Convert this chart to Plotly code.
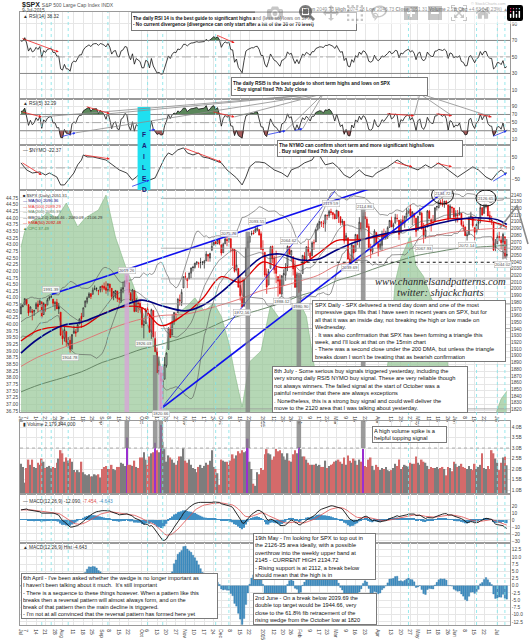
import numpy as np
import pandas as pd
import plotly.graph_objects as go
from plotly.subplots import make_subplots

W, H = 529, 640
FONT = "Liberation Sans, Arial, sans-serif"

holidays = ["2014-07-04", "2014-09-01", "2014-11-27", "2014-12-25", "2015-01-01",
            "2015-01-19", "2015-02-16", "2015-04-03", "2015-05-25", "2015-07-03"]

# closes before the visible window, only used to warm up the indicators
warm_close = [1883.7, 1881.1, 1884.7, 1867.7, 1878.2, 1875.6, 1878.5, 1896.7, 1897.5, 1888.5,
              1870.9, 1877.9, 1885.1, 1872.8, 1888.0, 1892.5, 1900.5, 1911.9, 1909.8, 1920.0,
              1923.6, 1925.0, 1924.2, 1927.9, 1940.5, 1949.4, 1951.3, 1950.8, 1943.9, 1930.1,
              1936.2, 1937.8, 1942.0, 1957.0, 1959.5, 1962.9, 1962.6, 1950.0, 1959.5, 1957.2,
              1961.0, 1960.2]

spx_open = [
    1962.3, 1973.1, 1975.9, 1984.2, 1976.4, 1965.1, 1966.7, 1965.8, 1969.9, 1977.4, 1976.4, 1979.8, 1961.5, 1976.9, 1975.7, 1985.3, 1988.1, 1984.6, 1978.3, 1980.0, 1973.2, 1965.1,
    1929.8, 1926.6, 1936.3, 1917.3, 1923.0, 1910.4, 1933.4, 1935.7, 1935.6, 1947.4, 1958.9, 1958.4, 1972.7, 1980.5, 1986.8, 1992.6, 1991.7, 1998.6, 2000.5, 1997.4, 1998.5,
    2004.1, 2003.6, 2001.7, 1998.0, 2007.2, 2000.7, 1988.4, 1992.9, 1996.7, 1986.0, 1981.9, 1999.3, 2003.1, 2012.7, 2009.1, 1992.8, 1983.3, 1997.3, 1966.2, 1978.9, 1978.2,
    1971.4, 1945.8, 1948.1, 1970.0, 1961.4, 1935.6, 1967.7, 1925.6, 1905.7, 1877.1, 1874.2, 1855.9, 1864.9, 1885.6, 1909.4, 1941.3, 1931.0, 1951.6, 1962.0, 1964.1, 1983.3, 1979.5, 2001.2,
    2018.2, 2015.8, 2015.3, 2023.3, 2032.4, 2032.0, 2038.2, 2037.8, 2039.2, 2039.7, 2038.3, 2041.5, 2051.2, 2045.9, 2057.5, 2065.1, 2070.2, 2067.4, 2074.8,
    2065.8, 2053.8, 2067.5, 2073.6, 2072.8, 2074.8, 2056.6, 2058.9, 2027.9, 2030.4, 2005.0, 1986.7, 1973.8, 2018.9, 2061.0, 2069.3, 2081.5, 2083.3, 2084.3, 2087.6, 2088.5, 2082.1,
    2058.9, 2054.4, 2022.2, 2005.6, 2030.6, 2063.5, 2046.1, 2031.6, 2018.4, 2013.8, 1992.3, 2020.8, 2020.2, 2034.3, 2062.9, 2050.4, 2047.9, 2032.3, 2002.5, 2019.4,
    1996.7, 2022.7, 2048.9, 2043.5, 2062.3, 2053.5, 2049.4, 2068.6, 2069.9, 2088.8, 2096.5, 2099.2, 2097.7, 2097.7, 2109.8, 2109.1, 2115.3, 2113.9, 2110.9,
    2105.2, 2115.8, 2107.7, 2098.5, 2100.9, 2072.3, 2076.1, 2044.7, 2041.1, 2064.6, 2055.4, 2080.6, 2072.8, 2098.7, 2090.3, 2107.9, 2103.9, 2093.1, 2059.9, 2055.8, 2064.1, 2084.1,
    2067.6, 2060.0, 2064.9, 2080.8, 2076.9, 2081.3, 2091.5, 2102.0, 2092.3, 2097.8, 2105.0, 2102.6, 2084.1, 2102.8, 2098.3, 2107.2, 2112.8, 2119.3, 2108.4, 2112.5, 2105.5,
    2087.4, 2110.2, 2112.6, 2091.3, 2079.0, 2092.1, 2115.6, 2102.9, 2099.6, 2100.4, 2122.1, 2121.3, 2129.5, 2127.8, 2125.6, 2130.4, 2125.3, 2105.1, 2122.3, 2120.7,
    2108.6, 2110.4, 2110.6, 2112.4, 2095.1, 2092.3, 2079.1, 2081.1, 2106.2, 2107.4, 2091.3, 2084.3, 2097.4, 2101.6, 2121.1, 2112.5, 2123.2, 2123.7, 2109.8, 2102.6, 2098.6, 2061.2,
    2067.0, 2078.0, 2073.0, 2069.5, 2077.7, 2049.7]
spx_high = [
    1978.6, 1976.7, 1985.6, 1984.2, 1976.4, 1973.8, 1969.8, 1968.7, 1979.8, 1982.5, 1983.9, 1981.8, 1979.9, 1976.9, 1986.2, 1989.2, 1991.4, 1984.6, 1981.5, 1984.9, 1978.9, 1965.1,
    1937.4, 1942.9, 1936.3, 1927.9, 1928.9, 1932.4, 1944.9, 1939.7, 1948.4, 1955.2, 1964.0, 1971.9, 1982.6, 1988.6, 1994.8, 1993.5, 2001.9, 2005.0, 2002.1, 1998.6, 2003.4,
    2006.1, 2009.3, 2011.2, 2007.7, 2007.2, 2001.0, 1996.7, 1997.7, 1996.7, 1987.2, 2002.3, 2010.7, 2012.3, 2019.3, 2009.1, 1995.4, 1999.8, 1997.3, 1986.4, 1981.3, 1985.2,
    1971.4, 1952.3, 1971.2, 1977.8, 1962.4, 1970.4, 1967.7, 1936.0, 1912.1, 1898.7, 1874.2, 1876.0, 1898.2, 1905.0, 1942.5, 1949.3, 1961.9, 1965.3, 1964.6, 1985.1, 1991.4, 1999.4, 2018.2,
    2024.5, 2015.9, 2023.8, 2031.6, 2034.3, 2038.7, 2041.3, 2040.3, 2046.2, 2041.1, 2043.1, 2056.1, 2052.1, 2053.8, 2071.5, 2070.2, 2074.2, 2073.3, 2075.8,
    2065.8, 2068.8, 2076.3, 2077.3, 2075.8, 2075.0, 2060.6, 2058.9, 2055.5, 2030.4, 2018.7, 2016.9, 2016.8, 2061.2, 2077.9, 2078.8, 2086.7, 2087.6, 2092.7, 2093.6, 2088.5, 2085.6,
    2072.4, 2054.4, 2030.3, 2029.6, 2064.1, 2064.4, 2049.3, 2056.9, 2018.4, 2021.4, 2020.5, 2028.9, 2038.3, 2064.6, 2062.9, 2057.6, 2047.9, 2042.5, 2024.6, 2023.3,
    2021.7, 2050.3, 2054.7, 2063.6, 2072.4, 2056.2, 2070.9, 2073.5, 2088.5, 2097.0, 2101.3, 2100.2, 2102.1, 2110.6, 2110.1, 2117.9, 2119.6, 2113.9, 2112.7,
    2117.5, 2115.8, 2107.7, 2104.3, 2100.9, 2083.5, 2076.1, 2050.1, 2066.4, 2064.6, 2081.4, 2080.6, 2106.9, 2098.7, 2113.9, 2114.9, 2107.6, 2097.4, 2067.2, 2062.8, 2088.9, 2084.1,
    2067.6, 2072.2, 2086.9, 2089.8, 2086.7, 2093.3, 2102.6, 2107.7, 2098.6, 2111.9, 2111.3, 2102.6, 2103.9, 2109.6, 2109.0, 2120.5, 2120.9, 2125.9, 2116.0, 2113.7, 2105.5,
    2108.4, 2120.9, 2115.2, 2098.4, 2092.9, 2117.7, 2117.7, 2105.1, 2110.2, 2121.5, 2123.9, 2131.8, 2133.0, 2134.7, 2131.3, 2132.2, 2125.3, 2126.2, 2122.3, 2120.7,
    2117.2, 2117.6, 2121.9, 2112.9, 2100.9, 2093.0, 2085.7, 2108.5, 2115.0, 2107.4, 2091.3, 2097.4, 2106.8, 2126.7, 2121.6, 2126.6, 2126.7, 2125.1, 2116.0, 2108.9, 2098.6, 2074.3,
    2082.8, 2085.1, 2078.6, 2083.7, 2077.7, 2074.3]
spx_low = [
    1962.3, 1972.6, 1975.9, 1974.9, 1959.5, 1965.1, 1952.9, 1959.6, 1969.9, 1965.3, 1975.7, 1955.6, 1960.8, 1965.8, 1975.7, 1982.4, 1985.8, 1974.4, 1967.3, 1969.9, 1962.4, 1930.0,
    1916.4, 1921.2, 1913.8, 1911.5, 1904.8, 1909.0, 1933.4, 1928.3, 1935.6, 1947.4, 1941.5, 1958.4, 1972.7, 1977.7, 1986.8, 1984.8, 1991.7, 1998.6, 1996.2, 1990.5, 1994.6,
    1994.9, 1998.1, 1992.6, 1990.1, 1995.6, 1984.6, 1982.9, 1985.9, 1980.3, 1978.5, 1979.1, 1993.3, 2003.1, 2006.6, 1991.0, 1982.8, 1978.6, 1965.0, 1966.2, 1964.0, 1968.0,
    1941.7, 1926.0, 1948.1, 1958.4, 1935.1, 1925.3, 1927.6, 1906.0, 1874.1, 1871.8, 1820.7, 1835.0, 1864.9, 1882.3, 1909.4, 1927.1, 1931.0, 1946.3, 1951.4, 1964.1, 1974.8, 1974.2, 2001.2,
    2013.7, 2001.0, 2014.0, 2015.9, 2025.9, 2030.2, 2035.3, 2031.3, 2030.4, 2035.4, 2030.2, 2041.5, 2040.4, 2040.5, 2056.8, 2065.1, 2064.8, 2066.6, 2065.1,
    2049.6, 2053.8, 2066.7, 2063.4, 2068.8, 2054.3, 2034.2, 2024.3, 2027.9, 2002.3, 1982.3, 1972.6, 1973.8, 2018.9, 2061.0, 2069.3, 2079.5, 2081.9, 2084.3, 2085.8, 2079.5, 2057.9,
    2046.0, 2017.3, 1992.4, 2005.6, 2030.6, 2038.3, 2022.6, 2008.3, 1988.4, 1991.5, 1988.1, 2004.5, 2012.0, 2026.4, 2050.5, 2040.9, 2019.9, 2001.5, 1989.2, 1993.4,
    1980.9, 2022.7, 2036.7, 2043.5, 2049.0, 2041.9, 2048.6, 2057.9, 2069.9, 2086.7, 2089.8, 2092.2, 2090.8, 2085.4, 2103.0, 2105.9, 2109.9, 2103.8, 2103.8,
    2104.5, 2098.3, 2094.5, 2095.2, 2067.3, 2072.2, 2044.2, 2039.7, 2041.1, 2041.2, 2055.4, 2065.1, 2061.2, 2085.6, 2090.3, 2104.4, 2091.5, 2061.1, 2045.5, 2052.0, 2064.1, 2067.0,
    2048.4, 2057.3, 2056.5, 2076.1, 2073.3, 2074.3, 2091.5, 2092.3, 2083.2, 2097.8, 2100.0, 2073.0, 2084.1, 2094.4, 2091.1, 2103.2, 2112.8, 2107.0, 2094.9, 2097.4, 2077.6,
    2087.4, 2110.2, 2088.5, 2067.9, 2074.9, 2092.1, 2104.6, 2085.6, 2096.0, 2100.4, 2116.8, 2120.0, 2124.5, 2122.6, 2120.9, 2126.1, 2099.2, 2105.1, 2112.8, 2104.9,
    2098.9, 2099.1, 2109.6, 2093.2, 2085.7, 2079.1, 2072.1, 2081.1, 2106.2, 2091.3, 2072.5, 2082.1, 2088.9, 2097.9, 2109.5, 2112.5, 2120.1, 2108.6, 2102.1, 2095.4, 2056.6, 2056.3,
    2067.0, 2071.0, 2058.4, 2044.0, 2044.7, 2046.7]
spx_close = [
    1973.3, 1974.6, 1985.4, 1977.6, 1963.7, 1972.8, 1964.7, 1967.6, 1977.1, 1973.3, 1981.6, 1958.1, 1978.2, 1973.6, 1983.5, 1987.0, 1988.0, 1978.3, 1978.9, 1969.9, 1970.1, 1930.7,
    1925.2, 1939.0, 1920.2, 1920.2, 1909.6, 1931.6, 1936.9, 1933.8, 1946.7, 1955.2, 1955.1, 1971.7, 1981.6, 1986.5, 1992.4, 1988.4, 1997.9, 2000.0, 2000.1, 1996.7, 2003.4,
    2002.3, 2000.7, 1997.7, 2007.7, 2001.5, 1988.4, 1995.7, 1997.5, 1985.5, 1984.1, 1999.0, 2001.6, 2011.4, 2010.4, 1994.3, 1982.8, 1998.3, 1966.0, 1982.9, 1977.8, 1972.3,
    1946.2, 1946.2, 1967.9, 1964.8, 1935.1, 1968.9, 1928.2, 1906.1, 1874.7, 1877.7, 1862.5, 1862.8, 1886.8, 1904.0, 1941.3, 1927.1, 1950.8, 1964.6, 1961.6, 1985.1, 1982.3, 1994.7, 2018.1,
    2017.8, 2012.1, 2023.6, 2031.2, 2031.9, 2038.3, 2039.7, 2038.3, 2039.3, 2039.8, 2041.3, 2051.8, 2048.7, 2052.8, 2063.5, 2069.4, 2067.0, 2072.8, 2067.6,
    2053.4, 2066.6, 2074.3, 2071.9, 2075.4, 2060.3, 2059.8, 2026.1, 2035.3, 2002.3, 1989.6, 1972.7, 2012.9, 2061.2, 2070.7, 2078.5, 2082.2, 2081.9, 2088.8, 2090.6, 2080.4, 2058.9,
    2058.2, 2020.6, 2002.6, 2025.9, 2062.1, 2044.8, 2028.3, 2023.0, 2011.3, 1992.7, 2019.4, 2022.6, 2032.1, 2063.2, 2051.8, 2057.1, 2029.6, 2002.2, 2021.3, 1995.0,
    2020.9, 2050.0, 2041.5, 2062.5, 2055.5, 2046.7, 2068.6, 2068.5, 2088.5, 2097.0, 2100.3, 2099.7, 2097.5, 2110.3, 2109.7, 2115.5, 2113.9, 2110.7, 2104.5,
    2117.4, 2107.8, 2098.5, 2101.0, 2071.3, 2079.4, 2044.2, 2040.2, 2065.9, 2053.4, 2081.2, 2074.3, 2099.5, 2089.3, 2108.1, 2104.4, 2091.5, 2061.1, 2056.2, 2061.0, 2086.2, 2067.9,
    2059.7, 2067.0, 2080.6, 2076.3, 2081.9, 2091.2, 2102.1, 2092.4, 2095.8, 2106.6, 2105.0, 2081.2, 2100.4, 2097.3, 2108.0, 2112.9, 2117.7, 2108.9, 2114.8, 2106.9, 2085.5,
    2108.3, 2114.5, 2089.5, 2080.2, 2088.0, 2116.1, 2105.3, 2099.9, 2098.5, 2121.1, 2122.7, 2129.2, 2127.8, 2125.9, 2130.8, 2126.1, 2104.2, 2123.5, 2120.8, 2107.4,
    2111.7, 2109.6, 2114.1, 2095.8, 2092.8, 2079.3, 2080.2, 2105.2, 2108.9, 2094.1, 2084.4, 2096.3, 2100.4, 2121.2, 2110.0, 2122.9, 2124.2, 2108.6, 2102.3, 2101.5, 2057.6, 2063.1,
    2077.4, 2076.8, 2068.8, 2081.3, 2046.7, 2051.3]
volume_b = [
    2.25, 2.10, 1.35, 2.05, 2.45, 2.20, 2.45, 2.10, 2.05, 2.30, 2.20, 2.50, 2.35, 2.05, 2.10, 2.15, 2.05, 2.10, 2.05, 2.30, 2.50, 2.90,
    2.75, 2.35, 2.55, 2.40, 2.50, 2.35, 1.95, 1.85, 1.95, 1.85, 2.35, 1.85, 1.75, 1.70, 1.75, 1.65, 1.65, 1.75, 1.70, 1.75, 1.60,
    2.00, 2.10, 2.15, 2.00, 2.00, 2.20, 2.00, 1.95, 2.10, 2.10, 2.30, 2.25, 2.15, 3.50, 2.20, 2.20, 2.15, 2.40, 2.10, 2.05, 2.55,
    2.55, 2.80, 2.45, 2.20, 2.60, 2.75, 2.80, 3.25, 2.90, 2.80, 4.10, 3.30, 2.95, 2.35, 2.65, 2.55, 2.45, 2.30, 2.20, 2.40, 2.60, 2.60, 3.00,
    2.40, 2.30, 2.45, 2.20, 2.05, 2.00, 1.85, 2.10, 2.20, 2.05, 2.15, 2.30, 2.20, 2.40, 2.90, 2.10, 2.00, 1.80, 1.25,
    2.45, 2.40, 2.35, 2.35, 2.20, 2.40, 2.70, 2.50, 2.65, 2.85, 2.75, 2.90, 2.80, 2.85, 3.45, 2.35, 2.00, 1.30, 1.20, 1.85, 1.75, 2.05,
    1.95, 2.70, 2.95, 2.75, 2.70, 2.45, 2.60, 2.95, 2.85, 2.90, 2.75, 2.60, 2.45, 2.75, 2.40, 2.35, 2.70, 2.90, 2.75, 3.05,
    2.95, 2.60, 2.60, 2.45, 2.30, 2.20, 2.20, 2.20, 2.25, 2.15, 2.20, 2.10, 2.10, 2.40, 2.05, 2.15, 2.20, 2.25, 2.35,
    2.40, 2.45, 2.35, 2.25, 2.55, 2.20, 2.65, 2.40, 2.30, 2.50, 2.40, 2.20, 2.45, 2.35, 2.95, 2.15, 2.10, 2.45, 2.55, 2.15, 1.95, 2.20,
    2.10, 1.95, 2.05, 2.00, 2.10, 1.95, 1.90, 1.95, 2.05, 2.25, 2.15, 2.45, 2.00, 2.10, 2.20, 2.15, 2.10, 2.30, 2.25, 2.25, 2.60,
    2.30, 2.20, 2.45, 2.35, 2.30, 2.15, 2.00, 2.10, 2.05, 2.05, 2.10, 2.00, 2.05, 2.10, 2.00, 1.70, 2.10, 2.05, 1.90, 2.35,
    2.25, 2.10, 2.15, 2.25, 2.10, 2.05, 2.00, 2.15, 2.00, 1.95, 2.25, 2.00, 2.10, 2.20, 2.75, 2.05, 2.00, 2.15, 2.00, 2.90, 2.75, 2.50,
    2.30, 1.95, 2.30, 2.55, 2.60, 2.18]
spike_days = ["2014-09-19", "2014-10-10", "2014-10-15", "2014-12-19", "2015-01-30", "2015-03-20"]

# green area plotted on the left price scale
ind_dates = ["2014-07-01", "2014-07-03", "2014-07-10", "2014-07-17", "2014-07-22", "2014-07-29", "2014-08-05",
             "2014-08-13", "2014-08-19", "2014-08-28", "2014-09-04", "2014-09-09", "2014-09-11", "2014-09-19",
             "2014-09-24", "2014-10-01", "2014-10-09", "2014-10-14", "2014-10-16", "2014-10-21", "2014-10-28",
             "2014-11-04", "2014-11-10", "2014-11-17", "2014-11-24", "2014-12-01", "2014-12-05", "2014-12-10",
             "2014-12-16", "2014-12-22", "2014-12-31", "2015-01-08", "2015-01-15", "2015-01-23", "2015-01-30",
             "2015-02-05", "2015-02-11", "2015-02-18", "2015-03-02", "2015-03-20", "2015-04-06", "2015-04-10",
             "2015-04-15", "2015-04-20", "2015-04-27", "2015-04-30", "2015-05-06", "2015-05-12", "2015-05-19",
             "2015-05-22", "2015-05-29", "2015-06-10", "2015-06-30", "2015-07-06", "2015-07-09"]
ind_vals = [42.9, 43.5, 43.9, 44.0, 44.2, 44.0, 44.56, 43.66, 44.0, 44.3, 44.86, 43.9, 43.28, 42.04, 41.55,
            40.54, 39.4, 38.66, 38.2, 39.6, 40.4, 40.7, 41.0, 40.5, 40.8, 40.3, 39.3, 38.2, 36.9, 38.6, 39.0,
            40.7, 40.2, 40.5, 40.9, 40.3, 38.5, 36.9, 36.5, 36.6, 37.0, 39.0, 41.6, 42.5, 43.3, 42.2, 41.8,
            41.0, 40.3, 38.8, 37.2, 36.5, 36.6, 37.2, 37.49]

# moving averages, half-monthly
ma_dates = ["2014-07-01", "2014-07-15", "2014-08-01", "2014-08-15", "2014-09-02", "2014-09-15", "2014-10-01",
            "2014-10-15", "2014-11-03", "2014-11-14", "2014-12-01", "2014-12-15", "2015-01-02", "2015-01-15",
            "2015-02-02", "2015-02-13", "2015-03-02", "2015-03-16", "2015-04-01", "2015-04-15", "2015-05-01",
            "2015-05-15", "2015-06-01", "2015-06-15", "2015-07-01", "2015-07-09"]
ma50 = [1904, 1925, 1945, 1950, 1962, 1972, 1983, 1975, 1967, 1975, 1995, 2020, 2048, 2052, 2043, 2044,
        2058, 2070, 2080, 2085, 2090, 2097, 2103, 2106, 2103, 2096]
ema50 = [1922, 1938, 1944, 1943, 1962, 1972, 1972, 1945, 1963, 1985, 2018, 2010, 2040, 2032, 2036, 2052,
         2072, 2073, 2078, 2085, 2091, 2101, 2105, 2103, 2098, 2092]
ma100 = [1884, 1898, 1912, 1922, 1935, 1945, 1955, 1960, 1962, 1968, 1976, 1985, 1998, 2003, 2012, 2020,
         2035, 2042, 2055, 2063, 2073, 2080, 2085, 2088, 2090, 2089]
ma200 = [1846, 1856, 1867, 1876, 1890, 1898, 1910, 1917, 1928, 1937, 1950, 1960, 1970, 1978, 1990, 1998,
         2012, 2020, 2032, 2040, 2050, 2055, 2060, 2062, 2064, 2065]

nymo_dates = ["2014-07-01", "2014-07-07", "2014-07-10", "2014-07-16", "2014-07-21", "2014-07-23", "2014-07-29",
              "2014-07-31", "2014-08-04", "2014-08-06", "2014-08-11", "2014-08-13", "2014-08-15", "2014-08-18",
              "2014-08-20", "2014-08-25", "2014-08-29", "2014-09-04", "2014-09-08", "2014-09-11", "2014-09-15",
              "2014-09-19", "2014-09-24", "2014-09-26", "2014-10-01", "2014-10-06", "2014-10-07", "2014-10-10",
              "2014-10-15", "2014-10-17", "2014-10-21", "2014-10-23", "2014-10-28", "2014-10-31", "2014-11-04",
              "2014-11-07", "2014-11-12", "2014-11-14", "2014-11-19", "2014-11-24", "2014-11-26", "2014-12-01",
              "2014-12-04", "2014-12-08", "2014-12-11", "2014-12-16", "2014-12-18", "2014-12-22", "2014-12-26",
              "2014-12-30", "2015-01-05", "2015-01-12", "2015-01-16", "2015-01-22", "2015-01-26", "2015-01-30",
              "2015-02-04", "2015-02-10", "2015-02-13", "2015-02-18", "2015-02-20", "2015-02-26", "2015-03-03",
              "2015-03-06", "2015-03-11", "2015-03-16", "2015-03-18", "2015-03-23", "2015-03-27", "2015-03-31",
              "2015-04-06", "2015-04-09", "2015-04-14", "2015-04-16", "2015-04-22", "2015-04-28", "2015-05-01",
              "2015-05-07", "2015-05-12", "2015-05-18", "2015-05-21", "2015-05-28", "2015-06-02", "2015-06-08",
              "2015-06-12", "2015-06-17", "2015-06-23", "2015-06-26", "2015-07-01", "2015-07-06", "2015-07-08",
              "2015-07-09"]
nymo_vals = [23, -9, -23, -18, -32, -23, -41, -77, -77, -55,
             -23, 14, 36, 59, 50, 50, 41, 36, 23, 5,
             -9, -23, -55, -41, -18, -9, -55, -45, 5, 45,
             68, 59, 82, 91, 68, 59, 68, 50, 45, 36,
             27, 23, -9, -23, -45, -77, -41, 5, 27, 27,
             23, -9, -23, -41, -9, 5, 23, 36, 75, 40,
             14, 23, 0, -32, -45, -23, -9, -32, -41, -23,
             -9, 5, 23, 36, 14, 0, -9, 14, 0, 23,
             5, -23, -41, -18, 5, -9, -41, -55, -23, -9,
             -23, -22.37]

cyan_days = ["2014-07-17", "2014-07-24", "2014-08-06", "2014-09-05", "2014-10-06", "2014-10-16",
             "2014-11-25", "2014-12-05", "2015-04-24", "2015-06-16", "2015-07-01", "2015-07-08"]

tick_dates = ["2014-07-01", "2014-07-07", "2014-07-14", "2014-07-21", "2014-07-28", "2014-08-01", "2014-08-11",
              "2014-08-18", "2014-08-25", "2014-09-02", "2014-09-08", "2014-09-15", "2014-09-22", "2014-10-01",
              "2014-10-06", "2014-10-13", "2014-10-20", "2014-10-27", "2014-11-03", "2014-11-10", "2014-11-17",
              "2014-11-24", "2014-12-01", "2014-12-08", "2014-12-15", "2014-12-22", "2015-01-02", "2015-01-12",
              "2015-01-20", "2015-01-26", "2015-02-02", "2015-02-09", "2015-02-17", "2015-02-23", "2015-03-02",
              "2015-03-09", "2015-03-16", "2015-03-23", "2015-04-01", "2015-04-13", "2015-04-20", "2015-04-27",
              "2015-05-01", "2015-05-11", "2015-05-18", "2015-05-26", "2015-06-01", "2015-06-08", "2015-06-15",
              "2015-06-22", "2015-07-01"]
tick_labels = ["Jul", "7", "14", "21", "28", "Aug", "11", "18", "25", "Sep", "8", "15", "22", "Oct", "6", "13",
               "20", "27", "Nov", "10", "17", "24", "Dec", "8", "15", "22", "2015", "12", "20", "26", "Feb", "9",
               "17", "23", "Mar", "9", "16", "23", "Apr", "13", "20", "27", "May", "11", "18", "26", "Jun", "8",
               "15", "22", "Jul"]

price_labels = [("2014-07-24", 1991.39, 1), ("2014-08-07", 1904.78, -1), ("2014-09-19", 2019.26, 1),
                ("2014-10-02", 1926.03, -1), ("2014-10-15", 1820.66, -1), ("2014-12-05", 2075.76, 1),
                ("2014-12-16", 1972.56, -1), ("2014-12-29", 2093.55, 1), ("2015-01-16", 1988.12, -1),
                ("2015-01-23", 2064.62, 1), ("2015-02-02", 1980.90, -1), ("2015-02-25", 2119.59, 1),
                ("2015-03-11", 2039.69, -1), ("2015-03-23", 2114.86, 1), ("2015-05-06", 2067.93, -1),
                ("2015-05-20", 2134.72, 1), ("2015-06-09", 2072.14, -1), ("2015-06-23", 2126.65, 1),
                ("2015-07-07", 2044.02, -1)]

# ---------------------------------------------------------------------------
days = pd.bdate_range("2014-07-01", "2015-07-09", freq="C", holidays=holidays)
N = len(days)
pos = {d.strftime("%Y-%m-%d"): i for i, d in enumerate(days)}


def xi(d):
    return pos[d]


xs = np.arange(N)
closes = pd.Series(warm_close + spx_close)


def wilder_rsi(s, n):
    d = s.diff()
    up = d.clip(lower=0).ewm(alpha=1 / n, adjust=False).mean()
    dn = (-d.clip(upper=0)).ewm(alpha=1 / n, adjust=False).mean()
    return (100 - 100 / (1 + up / dn)).to_numpy()[-N:]


rsi14 = wilder_rsi(closes, 14)
rsi5 = wilder_rsi(closes, 5)
macd_s = closes.ewm(span=12, adjust=False).mean() - closes.ewm(span=26, adjust=False).mean()
sig_s = macd_s.ewm(span=9, adjust=False).mean()
macd = macd_s.to_numpy()[-N:]
sig = sig_s.to_numpy()[-N:]
hist = macd - sig
bb_mid = closes.rolling(20).mean()
bb_sd = closes.rolling(20).std(ddof=0)
bb_up = (bb_mid + 2 * bb_sd).to_numpy()[-N:]
bb_dn = (bb_mid - 2 * bb_sd).to_numpy()[-N:]
bb_mid = bb_mid.to_numpy()[-N:]

prev = np.array([warm_close[-1]] + spx_close[:-1])
cl = np.array(spx_close)
down = cl < prev

fig = make_subplots(rows=7, cols=1, shared_xaxes=True, vertical_spacing=0,
                    specs=[[{}], [{}], [{}], [{"secondary_y": True}], [{}], [{}], [{}]])


def rsi_traces(r, row):
    fig.add_trace(go.Scatter(x=xs, y=np.full(N, 70.0), mode="lines", line=dict(width=0)), row=row, col=1)
    fig.add_trace(go.Scatter(x=xs, y=np.maximum(r, 70), mode="lines", line=dict(width=0),
                             fill="tonexty", fillcolor="#5b875b"), row=row, col=1)
    fig.add_trace(go.Scatter(x=xs, y=np.full(N, 30.0), mode="lines", line=dict(width=0)), row=row, col=1)
    fig.add_trace(go.Scatter(x=xs, y=np.minimum(r, 30), mode="lines", line=dict(width=0),
                             fill="tonexty", fillcolor="#a45a5a"), row=row, col=1)
    fig.add_trace(go.Scatter(x=xs, y=r, mode="lines", line=dict(color="#111", width=0.8)), row=row, col=1)


rsi_traces(rsi14, 1)
rsi_traces(rsi5, 2)
fig.add_trace(go.Scatter(x=[xi(d) for d in nymo_dates], y=nymo_vals, mode="lines",
                         line=dict(color="#111", width=0.8)), row=3, col=1)

# price panel
fig.add_trace(go.Scatter(x=[xi(d) for d in ind_dates], y=ind_vals, mode="lines",
                         line=dict(color="#86b886", width=0.6), fill="tozeroy",
                         fillcolor="rgba(150,198,150,0.7)"), row=4, col=1, secondary_y=False)
mx = [xi(d) for d in ma_dates]
for arr, col, wd in [(ma200, "#5f7f5f", 0.9), (ma100, "#e07070", 0.9)]:
    fig.add_trace(go.Scatter(x=mx, y=arr, mode="lines", line=dict(color=col, width=wd, shape="spline")),
                  row=4, col=1, secondary_y=True)
for arr in (bb_up, bb_mid, bb_dn):
    fig.add_trace(go.Scatter(x=xs, y=arr, mode="lines", line=dict(color="#555", width=0.6)),
                  row=4, col=1, secondary_y=True)
o = np.array(spx_open); hi = np.array(spx_high); lo = np.array(spx_low)
for mask, col in [(~down, "#222"), (down, "#e00000")]:
    fig.add_trace(go.Candlestick(x=xs[mask], open=o[mask], high=hi[mask], low=lo[mask], close=cl[mask],
                                 increasing=dict(line=dict(color=col, width=0.7), fillcolor="white"),
                                 decreasing=dict(line=dict(color=col, width=0.7), fillcolor=col),
                                 whiskerwidth=0), row=4, col=1, secondary_y=True)
for arr, col, wd in [(ema50, "#dd0000", 1.3), (ma50, "#000080", 1.6)]:
    fig.add_trace(go.Scatter(x=mx, y=arr, mode="lines", line=dict(color=col, width=wd, shape="spline")),
                  row=4, col=1, secondary_y=True)


def trend(d0, p0, d1, p1, d_end):
    i0, i1, ie = xi(d0), xi(d1), xi(d_end)
    k = (p1 - p0) / (i1 - i0)
    return [i0, ie], [p0, p0 + k * (ie - i0)]


for (a, b, c, d, e), wd in [(("2014-07-24", 1991.39, "2014-12-29", 2093.55, "2015-05-27"), 1.6),
                            (("2014-10-15", 1820.66, "2015-02-02", 1980.90, "2015-05-26"), 1.6),
                            (("2014-10-15", 1820.66, "2014-12-16", 1972.56, "2015-02-27"), 0.8)]:
    tx, ty = trend(a, b, c, d, e)
    fig.add_trace(go.Scatter(x=tx, y=ty, mode="lines", line=dict(color="#1010ee", width=wd)),
                  row=4, col=1, secondary_y=True)

# volume
vcol = np.where(down, "#d46a6a", "#7d7d7d").astype(object)
for d in spike_days:
    vcol[xi(d)] = "#9a2fd0"
fig.add_trace(go.Bar(x=xs, y=volume_b, marker=dict(color=list(vcol), line=dict(width=0))), row=5, col=1)

# MACD
fig.add_trace(go.Bar(x=xs, y=hist, marker=dict(color="#3f8fc4", line=dict(width=0))), row=6, col=1)
fig.add_trace(go.Scatter(x=xs, y=sig, mode="lines", line=dict(color="#e05050", width=0.8)), row=6, col=1)
fig.add_trace(go.Scatter(x=xs, y=macd, mode="lines", line=dict(color="#111", width=0.9)), row=6, col=1)
fig.add_trace(go.Bar(x=xs, y=hist, marker=dict(color="#3f8fc4", line=dict(color="#2a6d9c", width=0.3))),
              row=7, col=1)

# ---------------------------------------------------------------------------
def fy(py):
    return 1 - py / H


panels = {1: (12, 99), 2: (99, 145), 3: (145, 190), 4: (190, 412), 5: (421, 494), 6: (494, 543), 7: (543, 625)}
yaxis_of = {1: "yaxis", 2: "yaxis2", 3: "yaxis3", 4: "yaxis4", 5: "yaxis6", 6: "yaxis7", 7: "yaxis8"}
tickfont = dict(family=FONT, size=4.8, color="#444")
tvals = [xi(d) for d in tick_dates]
xr = [-0.5, N + 0.7]
for r in range(1, 8):
    name = "xaxis" if r == 1 else "xaxis%d" % r
    fig.layout[name].update(domain=[20 / W, 510 / W], range=xr, tickvals=tvals, ticktext=tick_labels,
                            showticklabels=r in (4, 7), tickfont=dict(family=FONT, size=4.8, color="#333"),
                            showgrid=True, gridcolor="#e6e6e6", gridwidth=0.6, showline=True, mirror=True,
                            linecolor="#9a9a9a", linewidth=0.8, ticks="", rangeslider=dict(visible=False),
                            zeroline=False, automargin=False)
    y0, y1 = panels[r]
    fig.layout[yaxis_of[r]].update(domain=[fy(y1), fy(y0)], showline=True, mirror=True, linecolor="#9a9a9a",
                                   linewidth=0.8, gridcolor="#e6e6e6", gridwidth=0.6, zeroline=False,
                                   tickfont=tickfont, ticks="", automargin=False)

fig.layout.yaxis.update(range=[-1, 104.5], tickvals=[10, 30, 50, 70, 90], side="right")
fig.layout.yaxis2.update(range=[-5, 108], tickvals=[10, 30, 50, 70, 90], side="right")
fig.layout.yaxis3.update(range=[-100, 104], tickvals=[-50, 0, 50], side="right")
lv = np.arange(36.75, 44.76, 0.25)
fig.layout.yaxis4.update(range=[36.71, 45.05], tickvals=lv, ticktext=["%.2f" % v for v in lv], side="left")
fig.layout.yaxis5.update(range=[1816, 2147.5], tickvals=list(range(1820, 2141, 10)), side="right",
                         showgrid=False, zeroline=False, tickfont=tickfont, ticks="", showline=False,
                         automargin=False)
vv = [1.0, 1.5, 2.0, 2.5, 3.0, 3.5, 4.0]
fig.layout.yaxis6.update(range=[0.81, 4.29], tickvals=vv, ticktext=["%.1fB" % v for v in vv], side="right")
fig.layout.yaxis7.update(range=[-33, 37], tickvals=[-30, -20, -10, 0, 10, 20], side="right")
hv = [-12.5, -10, -7.5, -5, -2.5, 0, 2.5, 5, 7.5, 10, 12.5]
fig.layout.yaxis8.update(range=[-13.6, 14.8], tickvals=hv, ticktext=["%.1f" % v for v in hv], side="right")

shapes = []
ann = []


def hline(xref, yref, v, color="#808080", dash="solid", width=0.8, x0=None):
    if x0 is None:
        shapes.append(dict(type="line", xref=xref + " domain", yref=yref, x0=0, x1=1, y0=v, y1=v,
                           line=dict(color=color, width=width, dash=dash)))
    else:
        shapes.append(dict(type="line", xref=xref, yref=yref, x0=x0, x1=xr[1], y0=v, y1=v,
                           line=dict(color=color, width=width, dash=dash)))


for xa, ya in [("x", "y"), ("x2", "y2")]:
    hline(xa, ya, 70, "#707070")
    hline(xa, ya, 30, "#707070")
    hline(xa, ya, 50, "#909090", "dashdot", 0.7)
hline("x3", "y3", 0, "#909090", "dashdot", 0.7)

# fib retracement of the Oct low -> May high
for f in [0, 0.236, 0.382, 0.5, 0.618, 1.0]:
    hline("x4", "y5", 2134.72 - f * (2134.72 - 1820.66), "#9a9a9a", x0=xi("2014-10-15"))
hline("x4", "y5", 2039.69, "#111", "dot", 1.1, x0=xi("2015-02-02"))
hline("x5", "y6", 3.0, "#aaaaaa", "dot", 1.0)
hline("x6", "y7", -20, "#8a8a8a", x0=xi("2014-10-22"))

# volume spike bands
band_top = {"2014-09-19": 2028, "2014-10-10": 1901, "2014-10-15": 1885, "2014-12-19": 2085,
            "2015-01-30": 2024, "2015-03-20": 2122}
for d in spike_days:
    c = "rgba(215,165,215,0.8)" if d in ("2014-09-19", "2014-10-15") else "rgba(130,130,130,0.8)"
    shapes.append(dict(type="rect", xref="x4", yref="y5", x0=xi(d) - 1.2, x1=xi(d) + 1.2, y0=1816,
                       y1=band_top[d], fillcolor=c, line=dict(width=0), layer="above"))
    shapes.append(dict(type="rect", xref="x5", yref="y6", x0=xi(d) - 1.2, x1=xi(d) + 1.2, y0=3.0, y1=4.29,
                       fillcolor="rgba(130,130,130,0.8)", line=dict(width=0), layer="above"))

for d in cyan_days:
    shapes.append(dict(type="line", xref="x", yref="paper", x0=xi(d), x1=xi(d), y0=fy(625), y1=fy(12),
                       line=dict(color="#7fe3e8", width=0.8, dash="dot"), layer="above"))

# triangle projection sketched at the right edge of the price panel
shapes.append(dict(type="path", xref="paper", yref="paper",
                   path="M %f,%f L %f,%f L %f,%f" % (500 / W, fy(228), 517 / W, fy(206), 528 / W, fy(244)),
                   line=dict(color="#8a8a8a", width=1.6)))

# FAILED box
shapes.append(dict(type="rect", xref="x2", yref="paper", x0=xi("2014-09-29") - 0.3, x1=xi("2014-10-07") + 0.5,
                   y0=fy(190), y1=fy(107), fillcolor="#1fe0f0", line=dict(width=0), layer="above"))
for k, ch in enumerate("FAILED"):
    ann.append(dict(xref="x2", yref="paper", x=(xi("2014-09-29") + xi("2014-10-07")) / 2 + 0.1, y=fy(129 + 11 * k),
                    text="<b>%s</b>" % ch, showarrow=False, font=dict(family=FONT, size=6.5, color="#1a1a7a")))

# circles around the two highs
for d, p, rx, ry in [("2015-05-20", 2140, 5.8, 13.4), ("2015-06-23", 2135.5, 5.3, 12)]:
    shapes.append(dict(type="circle", xref="x4", yref="y5", x0=xi(d) - rx, x1=xi(d) + rx, y0=p - ry, y1=p + ry,
                       line=dict(color="#111", width=1)))

for d, p, s in price_labels:
    ann.append(dict(xref="x4", yref="y5", x=xi(d), y=p, yshift=5 * s, text="%.2f" % p, showarrow=False,
                    font=dict(family=FONT, size=4.3, color="#555"), bgcolor="rgba(255,255,255,0.85)",
                    bordercolor="#b0b0b0", borderwidth=0.5, borderpad=0.4))


def arrow(xa, ya, d0, v0, d1, v1, color, head=2):
    ann.append(dict(xref=xa, yref=ya, axref=xa, ayref=ya, x=xi(d1), y=v1, ax=xi(d0), ay=v0, text="",
                    showarrow=True, arrowhead=head, arrowsize=0.7, arrowwidth=0.8, arrowcolor=color, standoff=0))


RED, BLUE = "#e22", "#2233ee"
# connectors from the RSI5 note down to the signals
for d, v in [("2014-07-17", 64), ("2014-09-08", 72), ("2014-08-12", 25), ("2014-12-10", 64),
             ("2015-01-21", 30), ("2015-02-03", 35)]:
    arrow("x2", "y2", "2015-02-19", 121, d, v, "#8c8c8c", 0)
for d, v in [("2015-04-29", 67), ("2015-05-28", 67), ("2015-06-26", 64)]:
    arrow("x2", "y2", "2015-05-04", 121, d, v, "#8c8c8c", 0)

arrow("x", "y", "2014-07-01", 73, "2014-07-30", 56, RED)
arrow("x", "y", "2014-11-25", 77, "2014-12-10", 67, RED)
for a in [("2014-07-01", 77, "2014-07-17", 64), ("2014-08-19", 90, "2014-09-08", 72),
          ("2014-11-21", 77, "2014-12-10", 64), ("2015-04-08", 72, "2015-04-29", 67),
          ("2015-05-14", 72, "2015-05-28", 67), ("2015-06-16", 72, "2015-06-26", 64)]:
    arrow("x2", "y2", *a, RED)
for a in [("2014-07-31", 15, "2014-08-12", 25), ("2015-01-06", 20, "2015-01-21", 30),
          ("2015-01-27", 30, "2015-02-03", 35), ("2015-06-26", 15, "2015-07-09", 30),
          ("2014-10-06", 30, "2014-10-10", 33)]:
    arrow("x2", "y2", *a, BLUE)
for a in [("2014-07-01", 27, "2014-07-17", -32), ("2014-08-18", 59, "2014-09-08", 41),
          ("2014-10-31", 91, "2014-12-01", 27), ("2015-04-14", 27, "2015-04-28", 5),
          ("2015-05-14", 23, "2015-05-28", 5)]:
    arrow("x3", "y3", *a, RED)
for a in [("2014-09-23", -86, "2014-10-07", -55), ("2015-06-26", -64, "2015-07-09", -23)]:
    arrow("x3", "y3", *a, BLUE)


def txt(x, y, text, size=5, color="#222", xanchor="left", yanchor="middle", family=FONT, **kw):
    ann.append(dict(xref="paper", yref="paper", x=x / W, y=fy(y), text=text, showarrow=False, xanchor=xanchor,
                    yanchor=yanchor, font=dict(family=family, size=size, color=color), **kw))


def box(x0, y0, x1, text, size=5.7, bold=False, height=None):
    if bold:
        text = "<b>" + text.replace("<br>", "</b><br><b>") + "</b>"
    a = dict(xref="paper", yref="paper", x=x0 / W, y=fy(y0), xanchor="left", yanchor="top", text=text,
             showarrow=False, align="left", valign="middle", bgcolor="white", bordercolor="#7a7a7a",
             borderwidth=1, borderpad=1, width=x1 - x0 - 4, font=dict(family=FONT, size=size, color="#111"))
    if height:
        a["height"] = height - 4
    ann.append(a)


# header
txt(20, 4.5, "<b>$SPX</b> <span style='font-size:5px;color:#555'>S&P 500 Large Cap Index INDX</span>", 7)
txt(20, 10.5, "9-Jul-2015", 4.8, "#444")
txt(508, 3.3, "\u00a9 StockCharts.com", 4.0, "#777", xanchor="right")
txt(510, 9.3, "<b>Open</b> 2049.73 <b>High</b> 2074.28 <b>Low</b> 2046.73 <b>Close</b> 2051.31 "
    "<b>Volume</b> 2.2B <b>Chg</b> +4.63 (+0.23%) \u25b2", 4.8, "#222", xanchor="right")

# panel captions
txt(21, 16, "\u25b2 RSI(14) 38.32", 4.8, "#333")
txt(21, 104, "\u25b2 RSI(5) 32.29", 4.8, "#333")
txt(21, 150, "\u2014 $NYMO -22.37", 4.8, "#333")
txt(21, 212, "\u25a0 $SPX (Daily) 2051.31<br>"
    "<span style='color:#000080'>\u2014 MA(50) 2096.36</span><br>"
    "<span style='color:#e03030'>\u2014 MA(100) 2089.29</span><br>"
    "<span style='color:#5f7f5f'>\u2014 MA(200) 2065.39</span><br>"
    "\u2014 BB(20,2.0) 2046.46 - 2080.09 - 2106.29<br>"
    "<span style='color:#dd0000'>\u2014 EMA(50) 2092.48</span><br>"
    "<span style='color:#4a8a4a'>\u25b2 CPC 37.49</span>", 4.2, "#333", align="left")
txt(21, 424.5, "\u25ae Volume 2,179,244,000", 4.8, "#333")
txt(21, 501, "\u2014 MACD(12,26,9) -12.090, <span style='color:#e05050'>-7.454</span>, "
    "<span style='color:#3f8fc4'>-4.643</span>", 4.8, "#333")
txt(21, 547.5, "\u25b2 MACD(12,26,9) Hist -4.643", 4.8, "#333")

# watermark
txt(440, 281, "<i>www.channelsandpatterns.com</i>", 10.5, "#2b2b2b", xanchor="center",
    family="Liberation Serif, serif")
txt(440, 292.5, "<i>twitter: shjackcharts</i>", 10.5, "#2b2b2b", xanchor="center",
    family="Liberation Serif, serif")

# notes
box(131, 12, 357, "The daily RSI 14 is the best guide to significant highs and (less so) lows on SPX<br>"
    "- No current divergence (divergence can only start after a hit of the 30 or 70 level)", 4.7, True, 19)
box(231, 77, 428, "The daily RSI5 is the best guide to short term highs and lows on SPX<br>"
    " - Buy signal fixed 7th July close", 4.8, True, 19)
box(277, 140, 463, "The NYMO can confirm short term and more significant highs/lows<br>"
    ". Buy signal fixed 7th July close", 4.9, True, 17)
box(312, 300, 506, "SPX Daily - SPX delivered a trend day down and one of the most<br>"
    "impressive gaps fills that I have seen in recent years on SPX, but for<br>"
    "all that it was an inside day, not breaking the high or low made on<br>"
    "Wednesday.<br>"
    ". It was also confirmation that SPX has been forming a triangle this<br>"
    "week, and I'll look at that on the 15min chart<br>"
    "- There was a second close under the 200 DMA, but unless the triangle<br>"
    "breaks down I won't be treating that as bearish confirmation")
box(272, 366, 468, "8th July - Some serious buy signals triggered yesterday, including the<br>"
    "very strong daily RSI5 NYMO buy signal. These are very reliable though<br>"
    "not always winners. The failed signal at the start of October was a<br>"
    "painful reminder that there are always exceptions<br>"
    ". Nonetheless, this is a strong buy signal and could well deliver the<br>"
    "move to the 2120 area that I was talking about yesterday.")
box(372, 426, 447, "A high volume spike is a<br>helpful topping signal")
box(253, 533, 376, "19th May - I'm looking for SPX to top out in<br>"
    "the 2126-35 area ideally, with a possible<br>"
    "overthrow into the weekly upper band at<br>"
    "2145 - CURRENT HIGH 2134.72<br>"
    "- Rising support is at 2112, a break below<br>"
    "should mean that the high is in")
box(253, 593, 377, "2nd June - On a break below 2039.69 the<br>"
    "double top target would be 1944.66, very<br>"
    "close to the 61.8% fib retracement of the<br>"
    "rising wedge from the October low at 1820", 5.6)
box(21, 573, 218, "6th April - I've been asked whether the wedge is no longer important as<br>"
    "I haven't been talking about it much.  It's still important<br>"
    "- There is a sequence to these things however. When a pattern like this<br>"
    "breaks then a reversal pattern will almost always form, and on the<br>"
    "break of that pattern then the main decline is triggered.<br>"
    "- I'm not at all convinced that the reversal pattern has formed here yet", 5.6)

fig.update_layout(width=W, height=H, margin=dict(l=0, r=0, t=0, b=0), showlegend=False,
                  paper_bgcolor="white", plot_bgcolor="white", bargap=0.15, shapes=shapes,
                  annotations=ann, font=dict(family=FONT))
fig.write_html("out.html", post_script="document.body.style.margin='0';")
